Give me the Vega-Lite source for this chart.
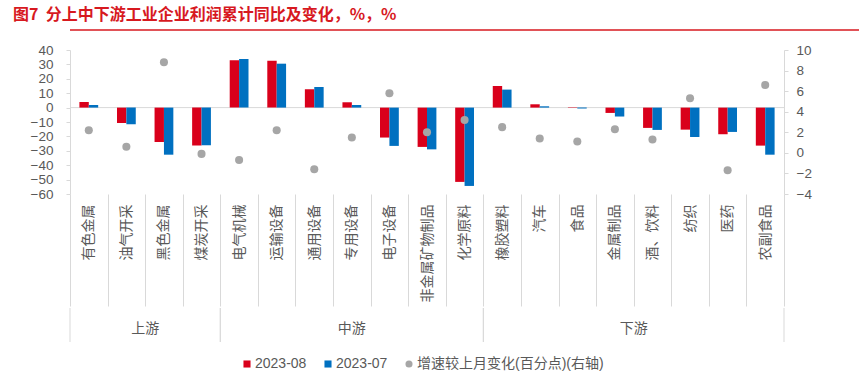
{
  "$schema": "https://vega.github.io/schema/vega-lite/v6.json",
  "background": "white",
  "padding": {"left": 13, "top": 7, "right": 0, "bottom": 0},
  "title": {"text": "图7\u00a0\u00a0分上中下游工业企业利润累计同比及变化，%，%", "anchor": "start", "font": "Noto Sans CJK SC", "fontSize": 16, "fontWeight": "bold", "color": "#d7191f", "offset": 6},
  "datasets": {
    "bars": [
      {"cat": "有色金属", "series": "2023-08", "value": 3.9}, {"cat": "有色金属", "series": "2023-07", "value": 1.8},
      {"cat": "油气开采", "series": "2023-08", "value": -10.7}, {"cat": "油气开采", "series": "2023-07", "value": -11.6},
      {"cat": "黑色金属", "series": "2023-08", "value": -23.9}, {"cat": "黑色金属", "series": "2023-07", "value": -32.7},
      {"cat": "煤炭开采", "series": "2023-08", "value": -26.4}, {"cat": "煤炭开采", "series": "2023-07", "value": -26.2},
      {"cat": "电气机械", "series": "2023-08", "value": 32.8}, {"cat": "电气机械", "series": "2023-07", "value": 33.8},
      {"cat": "运输设备", "series": "2023-08", "value": 32.6}, {"cat": "运输设备", "series": "2023-07", "value": 30.5},
      {"cat": "通用设备", "series": "2023-08", "value": 12.7}, {"cat": "通用设备", "series": "2023-07", "value": 14.3},
      {"cat": "专用设备", "series": "2023-08", "value": 3.7}, {"cat": "专用设备", "series": "2023-07", "value": 1.8},
      {"cat": "电子设备", "series": "2023-08", "value": -20.8}, {"cat": "电子设备", "series": "2023-07", "value": -26.6},
      {"cat": "非金属矿物制品", "series": "2023-08", "value": -27.3}, {"cat": "非金属矿物制品", "series": "2023-07", "value": -29.0},
      {"cat": "化学原料", "series": "2023-08", "value": -51.6}, {"cat": "化学原料", "series": "2023-07", "value": -54.4},
      {"cat": "橡胶塑料", "series": "2023-08", "value": 15.0}, {"cat": "橡胶塑料", "series": "2023-07", "value": 12.5},
      {"cat": "汽车", "series": "2023-08", "value": 2.3}, {"cat": "汽车", "series": "2023-07", "value": 0.9},
      {"cat": "食品", "series": "2023-08", "value": 0.3}, {"cat": "食品", "series": "2023-07", "value": -0.6},
      {"cat": "金属制品", "series": "2023-08", "value": -3.7}, {"cat": "金属制品", "series": "2023-07", "value": -6.2},
      {"cat": "酒、饮料", "series": "2023-08", "value": -14.1}, {"cat": "酒、饮料", "series": "2023-07", "value": -15.5},
      {"cat": "纺织", "series": "2023-08", "value": -15.3}, {"cat": "纺织", "series": "2023-07", "value": -20.4},
      {"cat": "医药", "series": "2023-08", "value": -18.5}, {"cat": "医药", "series": "2023-07", "value": -16.9},
      {"cat": "农副食品", "series": "2023-08", "value": -26.4}, {"cat": "农副食品", "series": "2023-07", "value": -32.7}
    ],
    "chg": [
      {"cat": "有色金属", "series": "增速较上月变化(百分点)(右轴)", "chg": 2.2},
      {"cat": "油气开采", "series": "增速较上月变化(百分点)(右轴)", "chg": 0.6},
      {"cat": "黑色金属", "series": "增速较上月变化(百分点)(右轴)", "chg": 8.8},
      {"cat": "煤炭开采", "series": "增速较上月变化(百分点)(右轴)", "chg": -0.1},
      {"cat": "电气机械", "series": "增速较上月变化(百分点)(右轴)", "chg": -0.7},
      {"cat": "运输设备", "series": "增速较上月变化(百分点)(右轴)", "chg": 2.2},
      {"cat": "通用设备", "series": "增速较上月变化(百分点)(右轴)", "chg": -1.6},
      {"cat": "专用设备", "series": "增速较上月变化(百分点)(右轴)", "chg": 1.5},
      {"cat": "电子设备", "series": "增速较上月变化(百分点)(右轴)", "chg": 5.8},
      {"cat": "非金属矿物制品", "series": "增速较上月变化(百分点)(右轴)", "chg": 2.0},
      {"cat": "化学原料", "series": "增速较上月变化(百分点)(右轴)", "chg": 3.2},
      {"cat": "橡胶塑料", "series": "增速较上月变化(百分点)(右轴)", "chg": 2.5},
      {"cat": "汽车", "series": "增速较上月变化(百分点)(右轴)", "chg": 1.4},
      {"cat": "食品", "series": "增速较上月变化(百分点)(右轴)", "chg": 1.1},
      {"cat": "金属制品", "series": "增速较上月变化(百分点)(右轴)", "chg": 2.3},
      {"cat": "酒、饮料", "series": "增速较上月变化(百分点)(右轴)", "chg": 1.3},
      {"cat": "纺织", "series": "增速较上月变化(百分点)(右轴)", "chg": 5.3},
      {"cat": "医药", "series": "增速较上月变化(百分点)(右轴)", "chg": -1.7},
      {"cat": "农副食品", "series": "增速较上月变化(百分点)(右轴)", "chg": 6.6}
    ],
    "groups": [
      {"grp": "上游", "start": 0, "end": 4, "mid": 2},
      {"grp": "中游", "start": 4, "end": 11, "mid": 7.5},
      {"grp": "下游", "start": 11, "end": 19, "mid": 15}
    ]
  },
  "align": "none",
  "spacing": 12,
  "vconcat": [
    {
      "width": 824,
      "height": 1,
      "data": {"values": [{}]},
      "mark": {"type": "rule", "color": "#d7191f", "strokeWidth": 1.5},
      "encoding": {"y": {"datum": 0, "scale": {"domain": [0, 1]}, "axis": null}}
    },
    {
      "spacing": 0,
      "vconcat": [
        {
          "width": 714,
          "height": 144,
          "layer": [
            {
              "data": {"values": [{}]},
              "mark": {"type": "rule", "color": "#d9d9d9"},
              "encoding": {"y": {"datum": 0, "scale": {"domain": [-60, 40], "nice": false}, "axis": null}}
            },
            {
              "data": {"name": "bars"},
              "mark": {"type": "bar"},
              "encoding": {
                "x": {"field": "cat", "type": "nominal", "sort": null, "scale": {"paddingInner": 0, "paddingOuter": 0},
                  "axis": {"title": null, "labelAngle": -90, "tickBand": "extent", "tickSize": 112, "tickColor": "#d9d9d9", "domain": false, "labelPadding": -102, "labelFont": "Noto Sans CJK SC", "labelFontSize": 14, "labelColor": "#595959", "grid": false}},
                "xOffset": {"field": "series", "type": "nominal", "sort": ["2023-08", "2023-07"], "scale": {"paddingInner": 0, "paddingOuter": 1.125}},
                "y": {"field": "value", "type": "quantitative", "scale": {"domain": [-60, 40], "nice": false},
                  "axis": {"title": null, "values": [-60, -50, -40, -30, -20, -10, 0, 10, 20, 30, 40], "grid": false, "domainColor": "#d9d9d9", "tickColor": "#d9d9d9", "tickSize": 4, "labelPadding": 13, "labelColor": "#595959", "labelFontSize": 13.5, "labelFont": "Liberation Sans", "minExtent": 57}},
                "color": {"field": "series", "type": "nominal", "title": null,
                  "scale": {"domain": ["2023-08", "2023-07", "增速较上月变化(百分点)(右轴)"], "range": ["#d9001b", "#0070c0", "#a6a6a6"]},
                  "legend": {"orient": "none", "legendX": 170, "legendY": 328, "direction": "horizontal"}}
              }
            },
            {
              "data": {"name": "chg"},
              "mark": {"type": "point", "filled": true, "size": 65, "opacity": 1},
              "encoding": {
                "x": {"field": "cat", "type": "nominal", "sort": null, "scale": {"paddingInner": 0, "paddingOuter": 0},
                  "axis": {"title": null, "labelAngle": -90, "tickBand": "extent", "tickSize": 112, "tickColor": "#d9d9d9", "domain": false, "labelPadding": -102, "labelFont": "Noto Sans CJK SC", "labelFontSize": 14, "labelColor": "#595959", "grid": false}},
                "y": {"field": "chg", "type": "quantitative", "scale": {"domain": [-4, 10], "nice": false},
                  "axis": {"orient": "right", "title": null, "values": [-4, -2, 0, 2, 4, 6, 8, 10], "grid": false, "domainColor": "#d9d9d9", "tickColor": "#d9d9d9", "tickSize": 4, "labelPadding": 8, "labelColor": "#595959", "labelFontSize": 13.5, "labelFont": "Liberation Sans"}},
                "color": {"field": "series", "type": "nominal", "title": null,
                  "scale": {"domain": ["2023-08", "2023-07", "增速较上月变化(百分点)(右轴)"], "range": ["#d9001b", "#0070c0", "#a6a6a6"]},
                  "legend": {"orient": "none", "legendX": 170, "legendY": 328, "direction": "horizontal"}},
                "shape": {"field": "series", "type": "nominal", "title": null,
                  "scale": {"domain": ["2023-08", "2023-07", "增速较上月变化(百分点)(右轴)"], "range": ["square", "square", "circle"]},
                  "legend": {"orient": "none", "legendX": 170, "legendY": 328, "direction": "horizontal"}}
              }
            }
          ],
          "resolve": {"scale": {"y": "independent"}}
        },
        {
          "width": 714,
          "height": 34,
          "data": {"name": "groups"},
          "layer": [
            {
              "mark": {"type": "rule", "color": "#d9d9d9"},
              "encoding": {"x": {"field": "start", "type": "quantitative", "scale": {"domain": [0, 19], "nice": false, "zero": false}, "axis": null}}
            },
            {
              "mark": {"type": "rule", "color": "#d9d9d9"},
              "encoding": {"x": {"field": "end", "type": "quantitative", "axis": null}}
            },
            {
              "mark": {"type": "text", "fontSize": 14, "color": "#595959", "font": "Noto Sans CJK SC", "dy": 4},
              "encoding": {"x": {"field": "mid", "type": "quantitative", "axis": null}, "text": {"field": "grp"}}
            }
          ]
        }
      ]
    }
  ],
  "config": {
    "view": {"stroke": null},
    "legend": {"labelFontSize": 14, "labelColor": "#595959", "labelFont": "Liberation Sans, Noto Sans CJK SC", "labelLimit": 0, "symbolSize": 50, "columnPadding": 14, "labelOffset": 1}
  }
}
